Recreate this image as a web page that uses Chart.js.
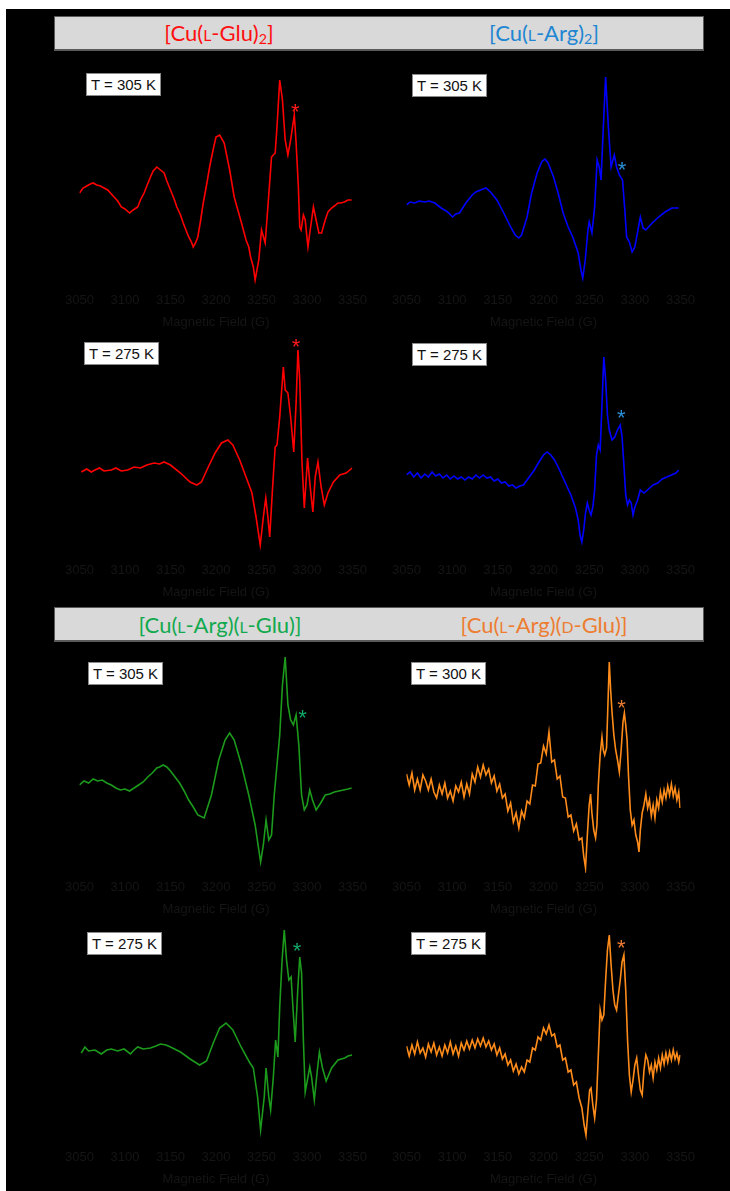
<!DOCTYPE html>
<html>
<head>
<meta charset="utf-8">
<script src="https://cdn.jsdelivr.net/npm/chart.js@4.4.1/dist/chart.umd.min.js"></script>
<style>
html,body{margin:0;padding:0;background:#fff;}
#stage{position:absolute;left:6px;top:9px;width:724px;height:1182px;background:#000;}
.bar{position:absolute;left:54px;width:648px;height:32px;background:#d9d9d9;border:1px solid #5a5a5a;border-width:1px 1px 2px 1px;}
.head{position:absolute;font-family:Lato,"Open Sans",sans-serif;font-size:22px;transform:translate(-50%,-50%);white-space:nowrap;}
.head .sc{font-size:0.72em;}
.head sub{font-size:0.65em;vertical-align:-0.25em;}
.tlab{position:absolute;width:73px;height:21px;background:#fff;border:1px solid #8a8a8a;font-family:"Liberation Sans",Arial,sans-serif;font-size:15px;line-height:21px;text-align:center;color:#111;}
canvas{position:absolute;}
</style>
</head>
<body>
<div id="stage"></div>
<div class="bar" style="top:16px"></div>
<div class="bar" style="top:607px"></div>
<div class="head" style="left:219px;top:33px;color:#ff1010">[Cu(<span class="sc">L</span>-Glu)<sub>2</sub>]</div>
<div class="head" style="left:544px;top:33px;color:#1e86d2">[Cu(<span class="sc">L</span>-Arg)<sub>2</sub>]</div>
<div class="head" style="left:220px;top:624px;color:#12a94e">[Cu(<span class="sc">L</span>-Arg)(<span class="sc">L</span>-Glu)]</div>
<div class="head" style="left:544px;top:624px;color:#ed7d31">[Cu(<span class="sc">L</span>-Arg)(<span class="sc">D</span>-Glu)]</div>

<canvas id="c1" width="316" height="270" style="left:58px;top:60px"></canvas>
<canvas id="c2" width="317" height="270" style="left:385px;top:60px"></canvas>
<canvas id="c3" width="316" height="270" style="left:58px;top:330px"></canvas>
<canvas id="c4" width="317" height="270" style="left:385px;top:330px"></canvas>
<canvas id="c5" width="316" height="270" style="left:58px;top:647px"></canvas>
<canvas id="c6" width="317" height="270" style="left:385px;top:647px"></canvas>
<canvas id="c7" width="316" height="270" style="left:58px;top:917px"></canvas>
<canvas id="c8" width="317" height="270" style="left:385px;top:917px"></canvas>

<div class="tlab" style="left:86px;top:73px">T = 305 K</div>
<div class="tlab" style="left:412px;top:74px">T = 305 K</div>
<div class="tlab" style="left:84px;top:342px">T = 275 K</div>
<div class="tlab" style="left:412px;top:343px">T = 275 K</div>
<div class="tlab" style="left:88px;top:662px">T = 305 K</div>
<div class="tlab" style="left:411px;top:662px">T = 300 K</div>
<div class="tlab" style="left:87px;top:932px">T = 275 K</div>
<div class="tlab" style="left:411px;top:932px">T = 275 K</div>

<script>
// field axis
const fieldMin=3050, fieldMax=3350, fieldStep=50;

// [Cu(L-Glu)2] 305 K
const fieldsRed305=[3050,3054,3058,3062,3065,3069,3073,3077,3081,3085,3088,3092,3096,3100,3105,3109,3114,3117,3121,3124,3128,3131,3135,3139,3143,3146,3150,3154,3157,3161,3164,3167,3170,3173,3175,3178,3180,3183,3186,3190,3193,3197,3200,3204,3209,3215,3220,3224,3228,3233,3236,3238,3241,3243,3247,3250,3254,3256.5,3261,3265,3267,3270,3273,3276,3279,3282,3286,3288,3290.5,3292,3293.5,3296,3298,3301,3303.5,3307,3310,3313,3316,3320,3323,3327,3330,3334,3337,3341,3345,3349];
const intRed305=[2,7,9,11,12,10,9,7,5,1,-2,-6,-12,-14,-18,-15,-12,-5,2,9,18,24,28,25,22,14,5,-4,-12,-20,-28,-35,-42,-47,-52,-47,-42,-26,-8,12,28,46,58,60,52,25,-2,-15,-28,-45,-52,-62,-72,-85,-65,-35,-48,-18,38,42,68,115,95,55,40,55,80,52,8,-32,-35,-20,-25,-52,-35,-12,-25,-38,-38,-25,-17,-13,-11,-8,-8,-7,-5,-5];

// [Cu(L-Arg)2] 305 K
const fieldsBlue305=[3050,3054,3059,3064,3070,3075,3081,3088,3095,3100.5,3104,3108,3115,3122,3126,3131,3137,3142,3149,3156.5,3164,3169,3173,3176,3182,3187,3193,3198,3201.6,3205,3211,3216,3221.5,3227,3232,3238,3241,3243,3245.7,3248.6,3250,3253,3256,3258.7,3261,3263,3265.5,3268,3271,3274,3277.5,3280,3283,3286.5,3289,3291,3294,3297,3300,3304,3306,3309,3312,3319,3326,3333,3340.6,3348];
const intBlue305=[0,3,2,4,3,4,2,-3,-7,-12,-9,-8,2,10,13,15,17,13,5,-8,-22,-30,-33,-30,-12,12,32,43,46,42,28,12,-8,-22,-32,-48,-65,-73,-55,-25,-17,-28,-2,45,38,25,78,128,78,38,50,38,30,25,-5,-32,-37,-47,-42,-22,-12,-23,-25,-18,-12,-7,-3,-3];

// [Cu(L-Glu)2] 275 K
const fieldsRed275=[3052,3058,3063,3067,3072,3077,3085,3090,3096,3103,3110,3117,3124,3132,3138,3143,3150,3161,3171.5,3179,3184,3191,3199,3206,3213,3218.5,3226,3233,3239.5,3244,3248.6,3252,3254.7,3257,3259,3262,3265,3267,3270,3274,3276,3279,3282,3285.4,3288,3290,3292,3294.5,3297,3300.6,3303.5,3306.4,3309,3312,3315.5,3319,3323,3329,3336,3343,3349.5];
const intRed275=[0,3,0,2,4,1,2,4,1,2,5,4,7,9,8,10,7,-1,-10,-13,-10,4,19,29,32,27,12,-5,-21,-45,-73,-45,-26,-45,-65,-18,25,27,55,105,82,79,55,20,69,122,92,9,-36,14,-15,-40,-5,10,-15,-33,-21,-10,-3,-1,4];

// [Cu(L-Arg)2] 275 K
const fieldsBlue275=[3050,3054,3058,3062,3066,3070,3074,3078,3082,3086,3090,3094,3098,3102,3106,3110,3114,3118,3122,3126,3130,3134,3138,3142,3146,3150,3154,3158,3162,3166,3170,3174,3178,3182,3186,3190,3195,3200,3204,3208,3212,3216,3220,3225,3230,3235,3238,3240,3242,3244,3246,3248,3250,3252,3254,3256,3258,3260,3262,3264,3266,3268,3270,3272,3275,3278,3281,3284,3286,3288,3290,3292,3294,3296,3298,3300,3303,3306,3310,3315,3320,3325,3330,3335,3340,3345,3348];
const intBlue275=[0,3,-2,2,-3,1,-2,3,-1,1,-3,0,-4,-1,-4,-2,-5,-2,-4,0,-3,0,-3,-2,-6,-4,-8,-7,-11,-10,-13,-11,-10,-5,0,5,13,20,23,20,15,8,0,-10,-20,-33,-45,-60,-67,-55,-38,-28,-35,-40,-32,-15,20,30,25,70,118,95,60,45,35,38,45,50,38,10,-20,-30,-25,-28,-40,-32,-25,-15,-18,-14,-10,-8,-4,-2,0,2,5];

// [Cu(L-Arg)(L-Glu)] 305 K
const fieldsGreen305=[3050,3055,3060,3065,3070,3075,3080,3085,3090,3095,3100,3105,3110,3115,3120,3125,3130,3135,3138,3142,3146,3150,3155,3160,3165,3170,3175,3180,3187,3195,3203,3210,3215,3220,3228,3236,3243,3249,3252,3255,3258,3261,3264,3267,3270,3273,3276,3279,3282,3285,3288,3291,3294,3297,3300,3303,3306,3310,3315,3320,3325,3330,3335,3340,3345,3349];
const intGreen305=[0,4,2,6,4,5,2,0,-3,-5,-4,-6,-3,0,3,8,12,17,18,20,18,14,8,2,-6,-15,-22,-30,-33,-10,25,45,52,45,20,-10,-40,-77,-60,-35,-55,-50,-10,20,50,100,128,80,65,60,70,40,-10,-25,-20,-5,-15,-25,-18,-10,-9,-7,-6,-5,-4,-3];

// [Cu(L-Arg)(D-Glu)] 300 K
const fieldsOrange300=[3050,3053,3056,3059,3062,3065,3068,3071,3074,3077,3080,3083,3086,3089,3092,3095,3098,3101,3104,3107,3110,3113,3116,3119,3122,3125,3128,3131,3134,3137,3140,3143,3146,3149,3152,3155,3158,3161,3164,3167,3170,3173,3176,3179,3182,3185,3188,3191,3194,3197,3200,3203,3206,3209,3212,3215,3218,3221,3224,3227,3230,3233,3236,3239,3242,3244,3246,3248,3250,3251.5,3253,3255,3257,3258.5,3260,3262,3264,3265.5,3267,3269,3270.5,3272,3273.5,3275,3277,3279,3281,3283,3285,3287,3288.5,3290,3291.5,3293,3295,3297,3299,3301,3303,3304.5,3306,3308,3310,3312,3314,3316,3318,3320,3322,3324,3326,3328,3330,3332,3334,3336,3338,3340,3342,3344,3346,3348,3349.5];
const intOrange300=[6,-5,7,-10,1,-10,5,-1,-10,1,-12,-18,-5,-14,-3,-18,-11,-21,-6,-12,-2,-17,-4,-14,6,-2,13,3,15,5,11,-3,4,-11,-4,-18,-14,-31,-23,-42,-33,-48,-31,-38,-21,-24,-5,-6,16,17,34,26,48,18,20,1,4,-17,-18,-37,-35,-51,-44,-60,-58,-76,-88,-55,-25,-14,-33,-50,-58,-45,-5,25,43,30,25,32,75,118,90,68,45,30,20,8,30,58,67,55,40,5,-30,-45,-40,-55,-62,-72,-50,-33,-25,-14,-28,-20,-36,-25,-38,-20,-28,-12,-22,-10,-18,-6,-15,-4,-16,-8,-20,-12,-28];

// [Cu(L-Arg)(L-Glu)] 275 K
const fieldsGreen275=[3052,3056,3060,3067,3074,3080,3085,3092,3099,3106,3110,3114,3120,3128,3134,3139,3145,3150,3161,3171.5,3182,3189.6,3197,3204,3211,3218.5,3227.6,3236.6,3241,3245.7,3249,3253,3255,3258,3260,3263,3265.5,3268,3270,3272.6,3275,3277.5,3280,3282.5,3284.7,3287,3289.8,3292,3294,3296,3298,3303,3305,3308,3311,3313.6,3317,3321,3327,3334,3341.5,3345,3349.5];
const intGreen275=[0,6,2,3,-1,3,4,2,4,-1,3,6,4,5,7,9,8,6,1,-6,-12,-8,10,25,30,23,6,-9,-15,-44,-77,-44,-15,-44,-57,-24,13,-4,46,93,123,93,73,76,43,11,63,96,80,13,-39,-14,-24,-47,-20,1,-15,-28,-15,-7,-5,-3,-2];

// [Cu(L-Arg)(D-Glu)] 275 K
const fieldsOrange275=[3050,3053,3056,3059,3062,3065,3068,3071,3074,3077,3080,3083,3086,3089,3092,3095,3098,3101,3104,3107,3110,3113,3116,3119,3122,3125,3128,3131,3134,3137,3140,3143,3146,3149,3152,3155,3158,3161,3164,3167,3170,3173,3176,3179,3182,3185,3188,3191,3194,3197,3200,3203,3206,3209,3212,3215,3218,3221,3224,3227,3230,3233,3236,3239,3242,3244.5,3246.5,3248.5,3250.5,3252,3254,3256,3258,3260,3262,3264,3266,3268,3270,3272,3274,3276,3278,3280,3282,3284,3286,3288,3290,3292,3294,3296,3298,3300,3302,3304,3306,3308,3310,3312,3314,3316,3318,3320,3322,3324,3326,3328,3330,3332,3334,3336,3338,3340,3342,3344,3346,3348,3349.5];
const intOrange275=[4,-6,5,-4,8,-3,2,-7,6,-2,7,-5,3,-6,5,-3,8,-4,4,-6,7,0,9,1,10,2,11,4,12,3,9,0,6,-5,2,-9,-4,-15,-10,-21,-14,-24,-17,-22,-10,-12,2,0,13,10,22,16,25,14,16,3,5,-10,-8,-22,-20,-35,-32,-48,-58,-75,-85,-62,-40,-38,-55,-68,-50,-5,40,30,35,70,100,115,85,60,45,40,55,70,88,95,60,10,-25,-42,-30,-15,-8,-25,-40,-45,-20,-5,-10,-22,-15,-28,-12,-20,-8,-18,-5,-14,-3,-12,-2,-10,0,-9,-3,-12,-5];

// asterisk marks (field, intensity)
const starFields=[3287,3286,3288,3285,3295,3285.5,3289,3285];
const starValues=[88,40,130,62,72,77,107,107];

// vertical window of each panel (intensity units)
const yLow=[-91,-81,-84,-81,-88,-93,-90,-93];
const yHigh=[125,135,132,135,128,123,126,123];

const panels=[
  {id:'c1',f:fieldsRed305,v:intRed305,line:'#ff0000',star:'#ff1a1a'},
  {id:'c2',f:fieldsBlue305,v:intBlue305,line:'#0000ff',star:'#2a8fd8'},
  {id:'c3',f:fieldsRed275,v:intRed275,line:'#ff0000',star:'#ff1a1a'},
  {id:'c4',f:fieldsBlue275,v:intBlue275,line:'#0000ff',star:'#2a8fd8'},
  {id:'c5',f:fieldsGreen305,v:intGreen305,line:'#1c9a1c',star:'#12a96a'},
  {id:'c6',f:fieldsOrange300,v:intOrange300,line:'#ff8c1a',star:'#ed7d31'},
  {id:'c7',f:fieldsGreen275,v:intGreen275,line:'#1c9a1c',star:'#12a96a'},
  {id:'c8',f:fieldsOrange275,v:intOrange275,line:'#ff8c1a',star:'#ed7d31'}
];

const starPlugin={
  id:'star',
  afterDatasetsDraw(chart,args,opts){
    const {ctx,scales:{x,y}}=chart;
    ctx.save();
    ctx.fillStyle=opts.color;
    ctx.font='22px "Liberation Sans"';
    ctx.textAlign='center';
    ctx.textBaseline='alphabetic';
    ctx.fillText('*',x.getPixelForValue(opts.field),y.getPixelForValue(opts.value)+12);
    ctx.restore();
  }
};

const axisColor='#151515';
panels.forEach((p,i)=>{
  const pts=p.f.map((f,k)=>({x:f,y:p.v[k]}));
  new Chart(document.getElementById(p.id),{
    type:'line',
    data:{datasets:[{data:pts,borderColor:p.line,borderWidth:1.6,pointRadius:0,tension:0,fill:false}]},
    options:{
      responsive:false,animation:false,
      layout:{padding:{left:20,right:20,top:10,bottom:0}},
      plugins:{legend:{display:false},tooltip:{enabled:false},star:{field:starFields[i],value:starValues[i],color:p.star}},
      scales:{
        x:{type:'linear',min:fieldMin,max:fieldMax,
          grid:{display:false,drawTicks:false},border:{display:false},
          ticks:{stepSize:fieldStep,color:axisColor,font:{family:'Liberation Sans',size:13},padding:7,maxRotation:0,callback:v=>String(v)},
          title:{display:true,text:'Magnetic Field (G)',color:axisColor,font:{family:'Liberation Sans',size:13},padding:{top:4,bottom:0}},
          afterFit(s){s.height=44;}},
        y:{display:false,min:yLow[i],max:yHigh[i]}
      }
    },
    plugins:[starPlugin]
  });
});
</script>
</body>
</html>
